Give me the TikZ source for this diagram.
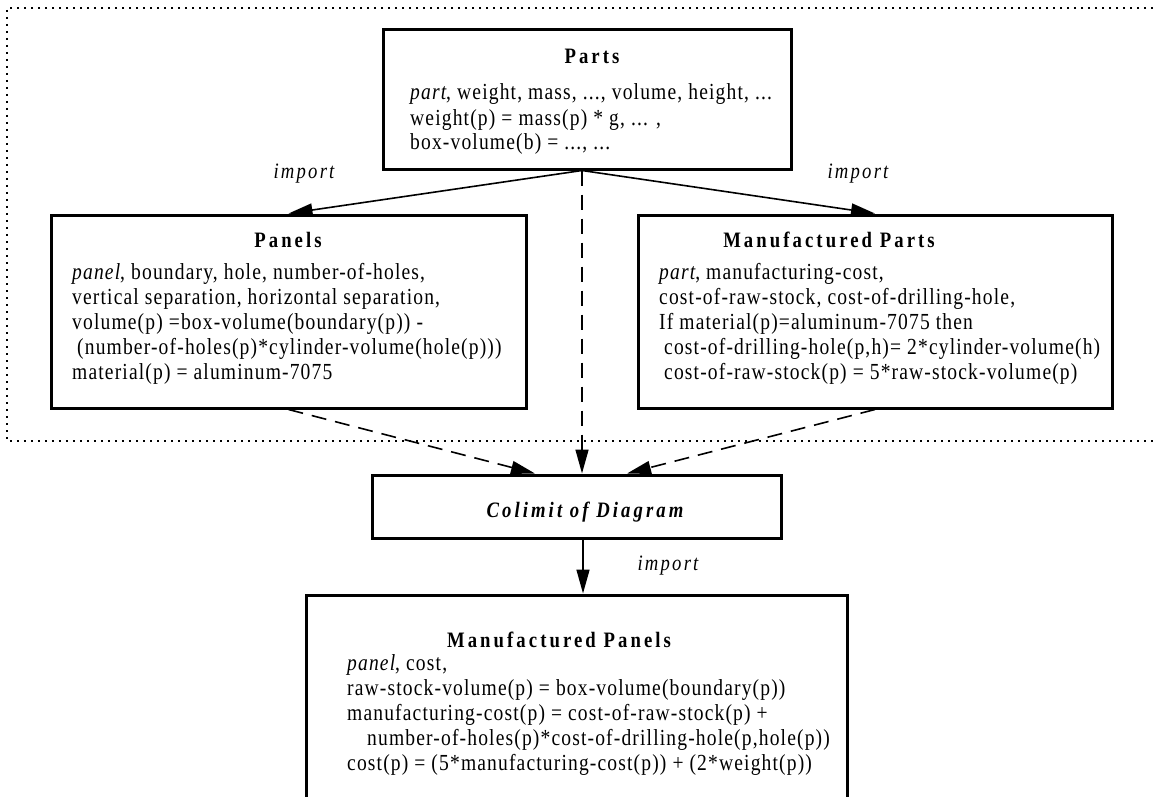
\documentclass[tikz,border=0pt]{standalone}
\usepackage{fontspec}
\usetikzlibrary{arrows.meta}
\setmainfont{Liberation Serif}
\newfontfamily\bodyfont{Liberation Serif}[FakeStretch=0.85, LetterSpace=5]
\newfontfamily\headfont{Liberation Serif}[FakeStretch=0.85, LetterSpace=14]
\newfontfamily\labelfont{Liberation Serif}[FakeStretch=0.85, LetterSpace=10]
\newcommand{\bodytext}[1]{\begin{tabular}[t]{@{}l@{}}#1\end{tabular}}

\tikzset{
  box/.style={draw, line width=3pt, rectangle, inner sep=0pt},
  heading/.style={font=\headfont\fontsize{22}{25}\selectfont\bfseries, anchor=base, inner sep=0pt},
  body/.style={font=\bodyfont\fontsize{23}{25}\selectfont, anchor=base west, inner sep=0pt},
  edgelabel/.style={font=\labelfont\fontsize{22}{25}\selectfont\itshape, anchor=base, inner sep=0pt},
  conn/.style={line width=1.6pt, -{Triangle[length=24pt,width=13pt]}},
  dashconn/.style={conn, dash pattern=on 15pt off 9pt},
  region/.style={line width=2pt, dash pattern=on 2pt off 5pt}
}

\begin{document}
\begin{tikzpicture}[x=1pt,y=-1pt]
\path[use as bounding box] (0,0) rectangle (1153,797);
\clip (0,0) rectangle (1153,797);

% dotted region holding the diagram being combined
\draw[region] (1160,8) -- (7,8) -- (7,441) -- (1160,441);

% boxes
\node[box, minimum width=408pt, minimum height=139pt] (parts)  at (587,99.5)  {};
\node[box, minimum width=475pt, minimum height=193pt] (panels) at (288.5,311.5) {};
\node[box, minimum width=474pt, minimum height=193pt] (mparts) at (875,311.5) {};
\node[box, minimum width=409pt, minimum height=63pt]  (colim)  at (576.5,506.5) {};
\node[box, minimum width=541pt, minimum height=235pt] (mpanels) at (576.5,712.5) {};

% Parts
\node[heading] (partsT) at (592,64) {Parts};
\node[body] (partsB) at (410,100) {\bodytext{%
  \textit{part}, weight, mass, ..., volume, height, ...\\
  weight(p) = mass(p) * g, ... ,\\
  box-volume(b) = ..., ...}};

% Panels
\node[heading] (panelsT) at (288,247) {Panels};
\node[body] (panelsB) at (72,279) {\bodytext{%
  \textit{panel}, boundary, hole, number-of-holes,\\
  vertical separation, horizontal separation,\\
  volume(p) =box-volume(boundary(p)) -\\
  \hspace{5pt}(number-of-holes(p)*cylinder-volume(hole(p)))\\
  material(p) = aluminum-7075}};

% Manufactured Parts
\node[heading] (mpartsT) at (829,247) {Manufactured Parts};
\node[body] (mpartsB) at (659,279) {\bodytext{%
  \textit{part}, manufacturing-cost,\\
  cost-of-raw-stock, cost-of-drilling-hole,\\
  If material(p)=aluminum-7075 then\\
  \hspace{5pt}cost-of-drilling-hole(p,h)= 2*cylinder-volume(h)\\
  \hspace{5pt}cost-of-raw-stock(p) = 5*raw-stock-volume(p)}};

% Colimit
\node[heading, font=\headfont\fontsize{22}{25}\selectfont\bfseries\itshape] (colimT) at (585,517) {Colimit of Diagram};

% Manufactured Panels
\node[heading] (mpanelsT) at (559,647) {Manufactured Panels};
\node[body] (mpanelsB) at (347,670) {\bodytext{%
  \textit{panel}, cost,\\
  raw-stock-volume(p) = box-volume(boundary(p))\\
  manufacturing-cost(p) = cost-of-raw-stock(p) +\\
  \hspace{20pt}number-of-holes(p)*cost-of-drilling-hole(p,hole(p))\\
  cost(p) = (5*manufacturing-cost(p)) + (2*weight(p))}};

% imports from Parts
\draw[conn] ([xshift=-5pt]parts.south) -- (panels.north);
\draw[conn] ([xshift=-5pt]parts.south) -- (mparts.north);
\node[edgelabel] (imp1) at (304,178) {import};
\node[edgelabel] (imp2) at (858,178) {import};

% diagram arrows into the colimit
\draw[dashconn] ([xshift=-5pt]parts.south) -- ([xshift=5.5pt]colim.north);
\draw[dashconn] (panels.south) -- ([xshift=-41.5pt]colim.north);
\draw[dashconn] (mparts.south) -- ([xshift=50.5pt]colim.north);

% colimit imported into Manufactured Panels
\draw[conn] ([xshift=6.5pt]colim.south) -- ([xshift=6.5pt]mpanels.north);
\node[edgelabel] (imp3) at (668,570) {import};
\end{tikzpicture}
\end{document}
